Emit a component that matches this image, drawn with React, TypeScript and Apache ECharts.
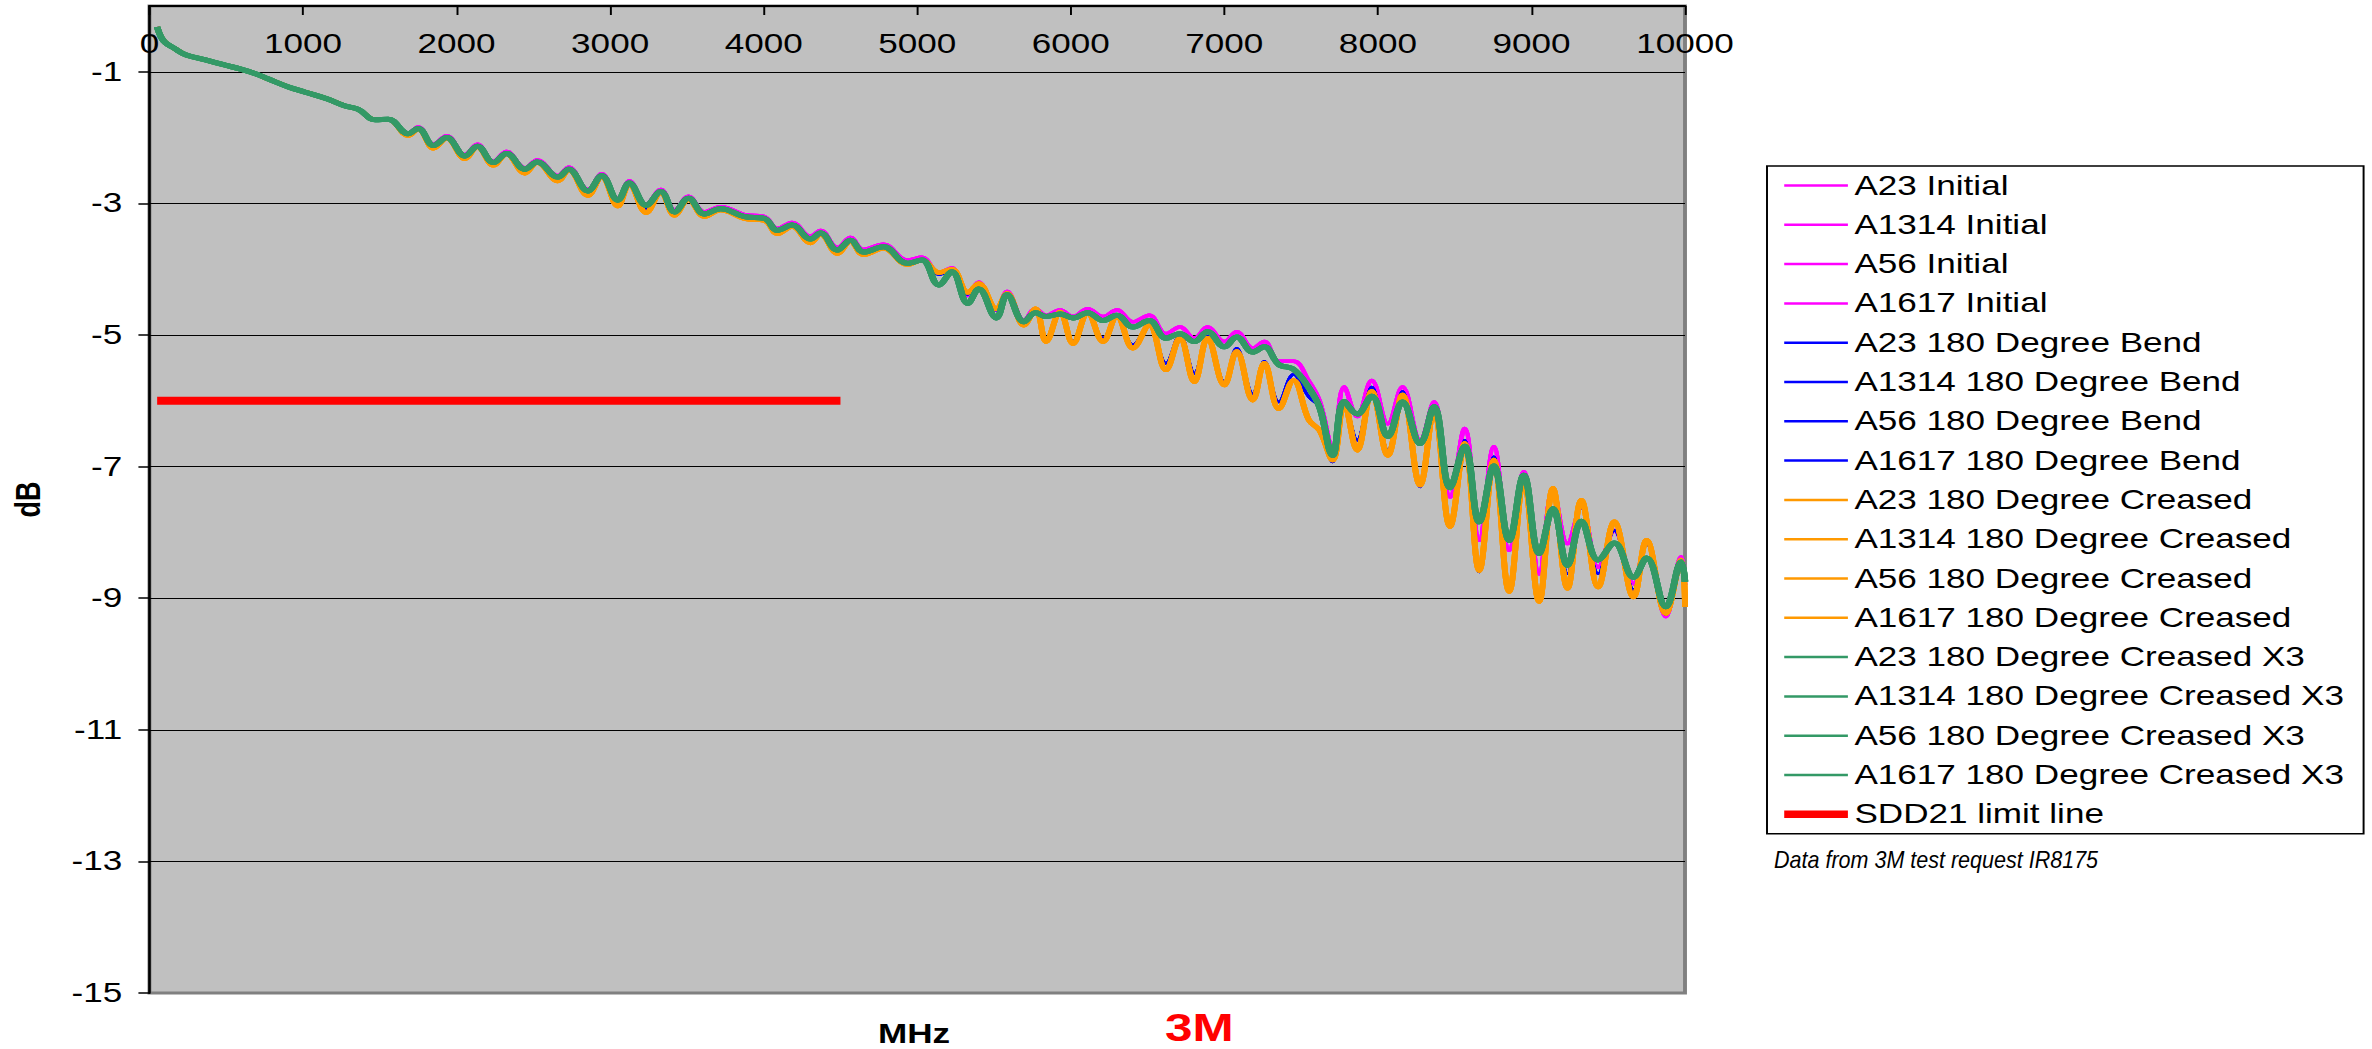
import React, { useEffect, useRef } from 'react';
import * as echarts from 'echarts';

// ---------- data ----------
const FREQ_MHZ = [
  50, 75, 105, 160, 235, 365, 495, 595, 690, 775, 905, 1015, 1155, 1275, 1360, 1470, 1555,
  1685, 1750, 1850, 1935, 2055, 2135, 2240, 2325, 2445, 2525,
  2660, 2730, 2855, 2945, 3050, 3125, 3235, 3330, 3420, 3510,
  3615, 3720, 3875, 4005, 4090, 4185, 4305, 4370, 4480, 4565,
  4650, 4780, 4935, 5030, 5140, 5225, 5330, 5400, 5515, 5585,
  5695, 5770, 5840, 5930, 6015, 6110, 6210, 6300, 6405, 6510,
  6620, 6710, 6805, 6890, 7000, 7080, 7185, 7260, 7355, 7450,
  7550, 7620, 7705, 7780, 7865, 7960, 8065, 8160, 8275, 8365,
  8470, 8565, 8660, 8755, 8855, 8950, 9050, 9140, 9235, 9325,
  9435, 9540, 9665, 9750, 9875, 9975, 10000,
];

const INITIAL_DB = [
  -0.32, -0.47, -0.56, -0.64, -0.74, -0.82, -0.90, -0.96, -1.03, -1.11, -1.23, -1.31, -1.41, -1.52, -1.57, -1.73, -1.72,
  -1.93, -1.84, -2.10, -1.97, -2.26, -2.10, -2.36, -2.21, -2.46, -2.34,
  -2.58, -2.45, -2.79, -2.55, -2.93, -2.66, -3.01, -2.79, -3.10, -2.89,
  -3.13, -3.05, -3.17, -3.20, -3.38, -3.29, -3.50, -3.41, -3.67, -3.52,
  -3.70, -3.62, -3.86, -3.82, -4.05, -3.98, -4.40, -4.20, -4.62, -4.34,
  -4.78, -4.60, -4.70, -4.62, -4.72, -4.60, -4.72, -4.62, -4.80, -4.70,
  -4.98, -4.88, -5.05, -4.88, -5.10, -4.95, -5.20, -5.10, -5.40, -5.40,
  -5.70, -6.00, -6.70, -5.79, -6.24, -5.69, -6.35, -5.79, -6.60, -6.02,
  -7.46, -6.42, -8.12, -6.70, -8.27, -7.08, -8.63, -7.36, -8.17, -7.62,
  -8.53, -7.97, -8.78, -8.12, -9.28, -8.37, -8.80,
];

const BEND_DB = [
  -0.32, -0.47, -0.56, -0.64, -0.74, -0.82, -0.90, -0.96, -1.03, -1.11, -1.23, -1.31, -1.41, -1.52, -1.57, -1.73, -1.72,
  -1.96, -1.87, -2.15, -2.01, -2.31, -2.14, -2.41, -2.25, -2.51, -2.38,
  -2.63, -2.49, -2.85, -2.59, -2.99, -2.70, -3.08, -2.83, -3.16, -2.93,
  -3.18, -3.09, -3.22, -3.25, -3.44, -3.34, -3.57, -3.46, -3.74, -3.57,
  -3.76, -3.67, -3.90, -3.85, -4.08, -4.02, -4.38, -4.24, -4.62, -4.38,
  -4.82, -4.62, -5.08, -4.66, -5.10, -4.67, -5.05, -4.72, -5.15, -4.85,
  -5.43, -5.00, -5.58, -5.02, -5.71, -5.20, -5.89, -5.40, -6.02, -5.60,
  -5.94, -6.10, -6.93, -6.00, -6.60, -5.79, -6.75, -5.86, -7.31, -6.09,
  -7.91, -6.60, -8.60, -6.85, -8.87, -7.15, -9.02, -7.41, -8.63, -7.62,
  -8.63, -7.97, -8.87, -8.17, -9.25, -8.42, -9.00,
];

const CREASED_DB = [
  -0.32, -0.47, -0.56, -0.64, -0.74, -0.82, -0.90, -0.96, -1.03, -1.11, -1.23, -1.31, -1.41, -1.52, -1.57, -1.73, -1.72,
  -1.97, -1.87, -2.16, -2.01, -2.32, -2.14, -2.42, -2.25, -2.54, -2.38,
  -2.66, -2.49, -2.88, -2.60, -3.04, -2.71, -3.14, -2.84, -3.18, -2.94,
  -3.20, -3.10, -3.23, -3.26, -3.46, -3.35, -3.60, -3.47, -3.76, -3.58,
  -3.78, -3.68, -3.93, -3.86, -4.05, -4.00, -4.35, -4.22, -4.60, -4.37,
  -4.85, -4.60, -5.10, -4.65, -5.13, -4.67, -5.10, -4.72, -5.20, -4.85,
  -5.53, -5.05, -5.71, -5.05, -5.76, -5.25, -5.99, -5.43, -6.12, -5.69,
  -6.29, -6.45, -6.90, -6.04, -6.75, -5.86, -6.83, -5.91, -7.28, -6.14,
  -7.91, -6.65, -8.58, -6.90, -8.90, -7.20, -9.05, -7.33, -8.85, -7.51,
  -8.83, -7.84, -8.98, -8.12, -9.23, -8.42, -9.13,
];

const CREASED_X3_DB = [
  -0.32, -0.47, -0.56, -0.64, -0.74, -0.82, -0.90, -0.96, -1.03, -1.11, -1.23, -1.31, -1.41, -1.52, -1.57, -1.73, -1.72,
  -1.94, -1.86, -2.12, -2.00, -2.28, -2.13, -2.38, -2.24, -2.48, -2.37,
  -2.60, -2.48, -2.81, -2.58, -2.95, -2.69, -3.03, -2.82, -3.13, -2.92,
  -3.16, -3.08, -3.20, -3.23, -3.41, -3.33, -3.54, -3.45, -3.71, -3.56,
  -3.74, -3.66, -3.91, -3.86, -4.24, -4.04, -4.52, -4.30, -4.74, -4.39,
  -4.80, -4.66, -4.72, -4.68, -4.74, -4.66, -4.78, -4.70, -4.88, -4.78,
  -5.05, -4.98, -5.10, -4.95, -5.18, -5.03, -5.26, -5.18, -5.45, -5.52,
  -5.80, -6.10, -6.83, -6.01, -6.20, -5.93, -6.54, -6.02, -6.65, -6.09,
  -7.32, -6.69, -7.84, -6.99, -8.12, -7.13, -8.32, -7.64, -8.50, -7.83,
  -8.42, -8.16, -8.68, -8.39, -9.13, -8.45, -8.75,
];

const LIMIT_MHZ = [50, 4500];
const LIMIT_DB = [-6, -6];

const SAMPLES = ['A23', 'A1314', 'A56', 'A1617'];
const Y_TICKS = [-15, -13, -11, -9, -7, -5, -3, -1];
const X_MIN = 0;
const X_MAX = 10000;
const X_STEP = 1000;

const GROUPS = [
  { suffix: 'Initial', color: '#FF00FF', width: 3.5, values: INITIAL_DB },
  { suffix: '180 Degree Bend', color: '#0000FF', width: 2.5, values: BEND_DB },
  { suffix: '180 Degree Creased', color: '#FF9900', width: 4.5, values: CREASED_DB },
  { suffix: '180 Degree Creased X3', color: '#339966', width: 5, values: CREASED_X3_DB },
];

// ---------- layout ----------
const PAGE_W = 2372;
const PAGE_H = 1049;
const CHART_W = 1825;
const S = PAGE_W / CHART_W; // horizontal stretch of the reference picture
const FONT = '"Liberation Sans", Arial, sans-serif';

function buildOption() {
  const curveSeries: any[] = [];
  GROUPS.forEach((g) => {
    SAMPLES.forEach((s) => {
      curveSeries.push({
        name: `${s} ${g.suffix}`,
        type: 'line',
        data: FREQ_MHZ.map((f, i) => [f, g.values[i]]),
        showSymbol: false,
        symbol: 'none',
        smooth: 0.4,
        silent: true,
        lineStyle: { color: g.color, width: g.width },
        itemStyle: { color: g.color },
      });
    });
  });
  const limitSeries = {
    name: 'SDD21 limit line',
    type: 'line',
    data: LIMIT_MHZ.map((f, i) => [f, LIMIT_DB[i]]),
    showSymbol: false,
    symbol: 'none',
    silent: true,
    lineStyle: { color: '#FF0000', width: 8, cap: 'butt' },
    itemStyle: { color: '#FF0000' },
  };

  const hiddenDot = { opacity: 0, color: 'rgba(0,0,0,0)', borderWidth: 0 };
  const legendData: any[] = [];
  GROUPS.forEach((g) =>
    SAMPLES.forEach((s) =>
      legendData.push({
        name: `${s} ${g.suffix}`,
        lineStyle: { width: 2.5, color: g.color },
        itemStyle: hiddenDot,
      })
    )
  );
  legendData.push({
    name: 'SDD21 limit line',
    lineStyle: { width: 7.5, color: '#FF0000' },
    itemStyle: hiddenDot,
  });

  return {
    animation: false,
    backgroundColor: '#FFFFFF',
    grid: {
      show: true,
      left: 143.7 / S,
      top: 6,
      width: (1685 - 143.7) / S,
      height: 987,
      backgroundColor: '#C0C0C0',
      borderColor: '#808080',
      borderWidth: 3,
    },
    xAxis: {
      type: 'value',
      min: X_MIN,
      max: X_MAX,
      interval: X_STEP,
      position: 'top',
      axisLine: { show: true, onZero: false, lineStyle: { color: '#000', width: 2 } },
      axisTick: { show: true, inside: true, length: 9, lineStyle: { color: '#000', width: 1.5 } },
      axisLabel: {
        inside: true,
        margin: 24,
        fontSize: 27,
        color: '#000',
        fontFamily: FONT,
        showMinLabel: true,
        showMaxLabel: true,
        formatter: (v: number) => String(v),
      },
      splitLine: { show: false },
    },
    yAxis: {
      type: 'value',
      min: -15,
      max: 0,
      name: 'dB',
      nameLocation: 'middle',
      nameGap: 80,
      nameRotate: 90,
      nameTextStyle: { fontSize: 27, fontWeight: 'bold', color: '#000', fontFamily: FONT },
      axisLine: { show: true, onZero: false, lineStyle: { color: '#000', width: 2 } },
      axisTick: { show: true, length: 8.5, customValues: Y_TICKS, lineStyle: { color: '#000', width: 1.5 } },
      axisLabel: {
        customValues: Y_TICKS,
        margin: 21,
        fontSize: 27,
        color: '#000',
        fontFamily: FONT,
        formatter: (v: number) => String(v),
      },
      splitLine: { show: true, showMinLine: false, lineStyle: { color: '#000', width: 1 } },
    },
    legend: {
      orient: 'vertical',
      left: 1767 / S,
      top: 166,
      padding: [6, 15, 6, 9.5],
      itemWidth: 49,
      itemHeight: 14,
      itemGap: 12.3,
      backgroundColor: '#FFFFFF',
      borderColor: '#000',
      borderWidth: 1.5,
      selectedMode: false,
      itemStyle: hiddenDot,
      textStyle: { fontSize: 27, color: '#000', fontFamily: FONT },
      data: legendData,
    },
    graphic: [
      {
        type: 'text',
        x: 914 / S,
        y: 1047,
        style: { text: 'MHz', font: `bold 27px ${FONT}`, fill: '#000', align: 'center', verticalAlign: 'bottom' },
      },
      {
        type: 'text',
        x: 1165 / S,
        y: 1047,
        style: { text: '3M', font: `bold 38px ${FONT}`, fill: '#FF0000', align: 'left', verticalAlign: 'bottom' },
      },
      {
        type: 'text',
        x: 1774 / S,
        y: 860,
        scaleX: 0.72,
        style: {
          text: 'Data from 3M test request IR8175',
          font: `italic 23px ${FONT}`,
          fill: '#000',
          align: 'left',
          verticalAlign: 'middle',
        },
      },
    ],
    series: [...curveSeries, limitSeries],
  };
}

export default function App() {
  const ref = useRef<HTMLDivElement>(null);
  useEffect(() => {
    if (!ref.current) return;
    const chart = echarts.init(ref.current, null, { renderer: 'svg' });
    chart.setOption(buildOption() as any);
    return () => chart.dispose();
  }, []);
  return (
    <div
      style={{
        position: 'fixed',
        left: 0,
        top: 0,
        width: PAGE_W,
        height: PAGE_H,
        background: '#FFFFFF',
        overflow: 'hidden',
      }}
    >
      <div
        ref={ref}
        style={{
          width: CHART_W,
          height: PAGE_H,
          transform: `scaleX(${S})`,
          transformOrigin: '0 0',
        }}
      />
    </div>
  );
}
